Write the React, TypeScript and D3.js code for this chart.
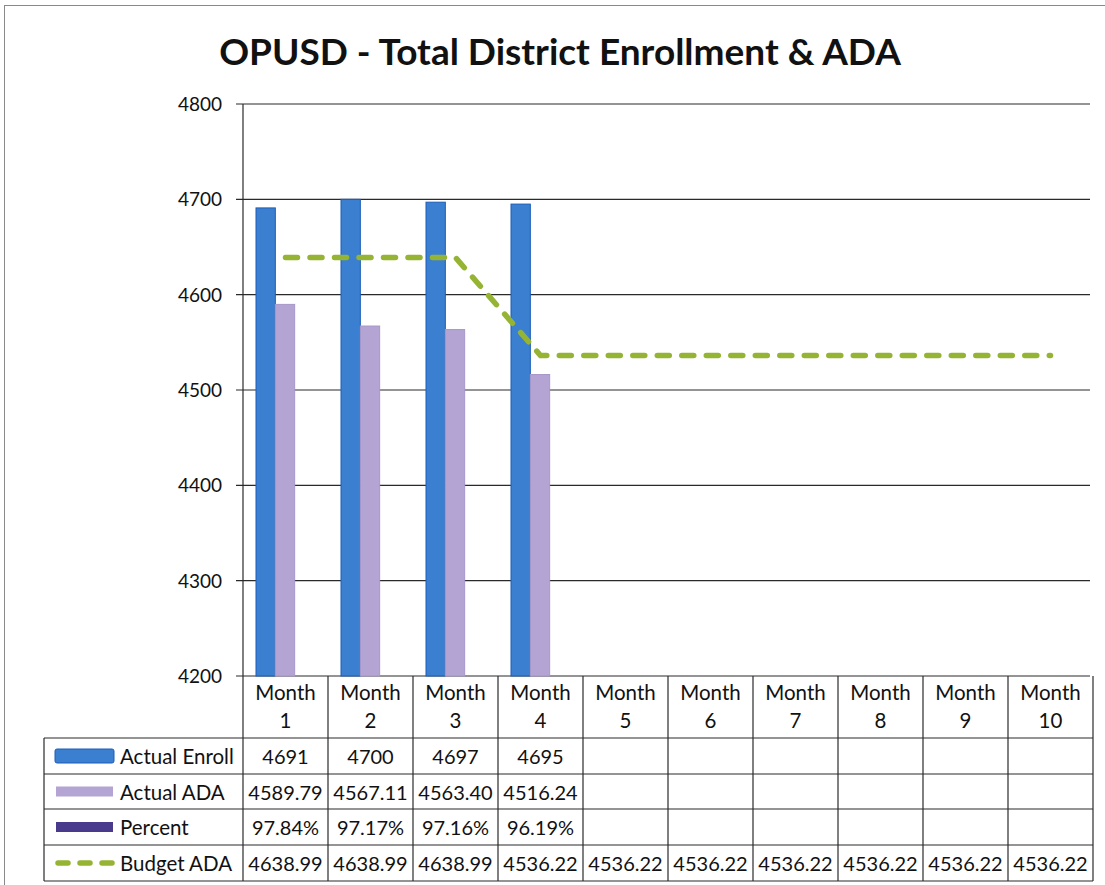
import React from 'react';
import * as d3 from 'd3';

const months = ['1', '2', '3', '4', '5', '6', '7', '8', '9', '10'];
const actualEnroll = [4691, 4700, 4697, 4695, null, null, null, null, null, null];
const actualAda = [4589.79, 4567.11, 4563.4, 4516.24, null, null, null, null, null, null];
const percent = [97.84, 97.17, 97.16, 96.19, null, null, null, null, null, null];
const budgetAda = [4638.99, 4638.99, 4638.99, 4536.22, 4536.22, 4536.22, 4536.22, 4536.22, 4536.22, 4536.22];
const yTicks = [4200, 4300, 4400, 4500, 4600, 4700, 4800];

const FONT = 'Lato, "Open Sans", sans-serif';
const W = 1105;
const H = 885;
const left = 243;
const right = 1093;
const top = 104;
const bottom = 676;
const rowH = [738, 774, 809, 845, 881];

const BLUE = '#3b7fd0';
const BLUE_EDGE = '#1c5db8';
const LAV = '#b3a4d4';
const DARK = '#4a3a8c';
const GREEN = '#95b433';

const App = () => {
  const x = d3.scaleBand<string>().domain(months).range([left, right]).padding(0);
  const y = d3.scaleLinear().domain([4200, 4800]).range([bottom, top]);
  const inner = d3.scaleBand<string>().domain(['enroll', 'ada', 'pct']).range([13, 71]).padding(0);
  const bw = inner.bandwidth();

  const line = d3
    .line<number>()
    .x((_, i) => (x(months[i]) as number) + x.bandwidth() / 2)
    .y(d => y(d));

  const bar = (vals: (number | null)[], key: string, fill: string, stroke: string) =>
    vals.map((v, i) => {
      if (v == null) return null;
      const yv = y(Math.max(v, 4200));
      return (
        <rect
          key={key + i}
          x={(x(months[i]) as number) + (inner(key) as number)}
          y={yv}
          width={bw}
          height={bottom - yv}
          fill={fill}
          stroke={stroke}
          strokeWidth={1}
        />
      );
    });

  const rows = [
    { label: 'Actual Enroll', vals: actualEnroll.map(v => (v == null ? '' : String(v))) },
    { label: 'Actual ADA', vals: actualAda.map(v => (v == null ? '' : v.toFixed(2))) },
    { label: 'Percent', vals: percent.map(v => (v == null ? '' : v.toFixed(2) + '%')) },
    { label: 'Budget ADA', vals: budgetAda.map(v => v.toFixed(2)) },
  ];

  return (
    <svg width={W} height={H} style={{ position: 'absolute', left: 0, top: 0, background: '#fff' }} fontFamily={FONT}>
      <rect x={4.5} y={5.5} width={W + 10} height={H + 10} fill="none" stroke="#8a8a8a" strokeWidth={1} />
      <text x={560} y={65} textAnchor="middle" fontSize={37} fontWeight="bold" fill="#111">
        OPUSD - Total District Enrollment &amp; ADA
      </text>

      {/* gridlines + y axis */}
      {yTicks.map(t => (
        <g key={t}>
          <line x1={236} x2={1090} y1={y(t)} y2={y(t)} stroke="#2a2a2a" strokeWidth={1.2} />
          <text x={222} y={y(t) + 7} textAnchor="end" fontSize={19} fill="#111">
            {t}
          </text>
        </g>
      ))}
      <line x1={left} x2={left} y1={top} y2={rowH[4]} stroke="#2a2a2a" strokeWidth={1.2} />

      {/* bars */}
      {bar(actualEnroll, 'enroll', BLUE, BLUE_EDGE)}
      {bar(actualAda, 'ada', LAV, '#a797c9')}
      {bar(percent, 'pct', DARK, DARK)}

      {/* budget line */}
      <path
        d={line(budgetAda) as string}
        fill="none"
        stroke={GREEN}
        strokeWidth={5.5}
        strokeLinecap="round"
        strokeDasharray="12 12.5"
      />

      {/* data table */}
      {rowH.map(ry => (
        <line key={ry} x1={44} x2={right} y1={ry} y2={ry} stroke="#2a2a2a" strokeWidth={1.2} />
      ))}
      <line x1={44} x2={44} y1={rowH[0]} y2={rowH[4]} stroke="#2a2a2a" strokeWidth={1.2} />
      {months.map((m, i) => {
        const x0 = x(m) as number;
        const cx = x0 + x.bandwidth() / 2;
        return (
          <g key={m}>
            <line x1={x0 + x.bandwidth()} x2={x0 + x.bandwidth()} y1={bottom} y2={rowH[4]} stroke="#2a2a2a" strokeWidth={1.2} />
            <text x={cx} y={700} textAnchor="middle" fontSize={20.5} fill="#111">
              Month
            </text>
            <text x={cx} y={728} textAnchor="middle" fontSize={20.5} fill="#111">
              {m}
            </text>
            {rows.map((r, j) => (
              <text key={j} x={cx} y={rowH[j] + 26} textAnchor="middle" fontSize={20} fill="#111">
                {r.vals[i]}
              </text>
            ))}
          </g>
        );
      })}

      {/* row legend keys */}
      {rows.map((r, j) => {
        const ry = rowH[j];
        const mid = (ry + rowH[j + 1]) / 2;
        return (
          <g key={r.label}>
            {j === 0 && <rect x={55} y={mid - 7} width={59} height={14} fill={BLUE} stroke={BLUE_EDGE} rx={2} />}
            {j === 1 && <rect x={56} y={mid - 5} width={57} height={10} fill={LAV} />}
            {j === 2 && <rect x={56} y={mid - 5} width={57} height={10} fill={DARK} />}
            {j === 3 && (
              <line
                x1={58}
                x2={113}
                y1={mid}
                y2={mid}
                stroke={GREEN}
                strokeWidth={5.5}
                strokeLinecap="round"
                strokeDasharray="10 12"
              />
            )}
            <text x={120} y={ry + 26} fontSize={20.5} fill="#111">
              {r.label}
            </text>
          </g>
        );
      })}
    </svg>
  );
};

export default App;
